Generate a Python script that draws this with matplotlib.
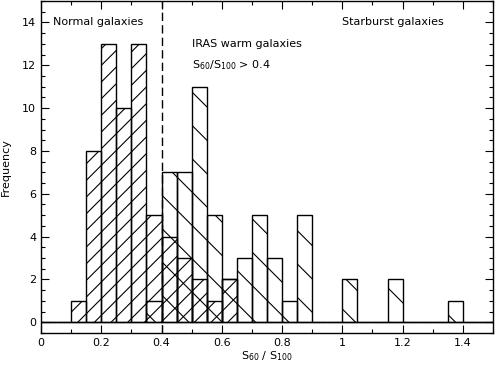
import matplotlib
matplotlib.use('Agg')
import matplotlib.pyplot as plt
import numpy as np
from matplotlib.ticker import MultipleLocator

# histogram bins of width 0.05 from 0 to 1.5
bin_width = 0.05
bin_lefts = np.arange(30) * bin_width

normal_counts = [0, 0, 1, 8, 13, 10, 13, 5, 4, 3, 2, 1, 2, 0, 0,
                 0, 0, 0, 0, 0, 0, 0, 0, 0, 0, 0, 0, 0, 0, 0]
warm_counts = [0, 0, 0, 0, 0, 0, 0, 1, 7, 7, 11, 5, 2, 3, 5,
               3, 1, 5, 0, 0, 2, 0, 0, 2, 0, 0, 0, 1, 0, 0]

divider = 0.4

plt.rcParams['hatch.linewidth'] = 0.8
plt.rcParams['font.family'] = 'DejaVu Sans'
plt.rcParams['mathtext.default'] = 'regular'

fig = plt.figure(figsize=(4.95, 3.65), dpi=100)
ax = fig.add_axes([41 / 495, 32 / 365, 452 / 495, 332 / 365])

ax.bar(bin_lefts, normal_counts, width=bin_width, align='edge',
       fill=False, edgecolor='black', hatch='//', linewidth=1.0)
ax.bar(bin_lefts, warm_counts, width=bin_width, align='edge',
       fill=False, edgecolor='black', hatch='\\', linewidth=1.0)

ax.axvline(divider, color='black', linestyle=(0, (6, 3)), linewidth=1.0)

ax.set_xlim(0, 1.5)
ax.set_ylim(-0.5, 15)
ax.xaxis.set_major_locator(MultipleLocator(0.2))
ax.xaxis.set_minor_locator(MultipleLocator(0.1))
ax.yaxis.set_major_locator(MultipleLocator(2))
ax.yaxis.set_minor_locator(MultipleLocator(0.5))
ax.tick_params(which='both', direction='in', top=True, right=True,
               labelsize=8, width=0.8)
ax.tick_params(which='major', length=6)
ax.tick_params(which='minor', length=3)
ax.set_xticks([0, 0.2, 0.4, 0.6, 0.8, 1.0, 1.2, 1.4])
ax.set_xticklabels(['0', '0.2', '0.4', '0.6', '0.8', '1', '1.2', '1.4'])
for s in ax.spines.values():
    s.set_linewidth(1.0)

ax.set_xlabel('$S_{60}$ / $S_{100}$', fontsize=8, labelpad=1)
ax.set_ylabel('Frequency', fontsize=8, labelpad=8)

ax.text(0.04, 14.0, 'Normal galaxies', fontsize=8, va='center')
ax.text(1.0, 14.0, 'Starburst galaxies', fontsize=8, va='center')
ax.text(0.5, 13.0, 'IRAS warm galaxies', fontsize=8, va='center')
ax.text(0.5, 12.0, '$S_{60}$/$S_{100}$ > 0.4', fontsize=8, va='center')

fig.savefig('out.png', dpi=100)
